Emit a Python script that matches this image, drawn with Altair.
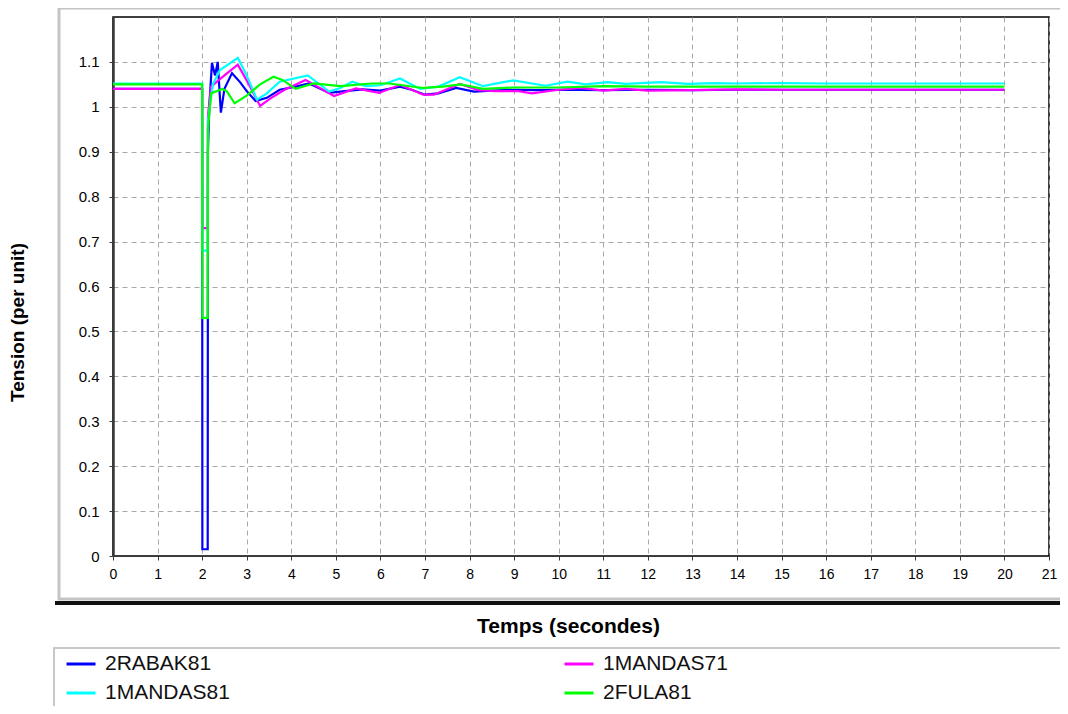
import altair as alt
import pandas as pd

names = ["2RABAK81", "1MANDAS71", "1MANDAS81", "2FULA81"]
colors = ["#0000ff", "#ff00ff", "#00ffff", "#00ff00"]
# legend is filled column by column: this order gives rows (2RABAK81, 1MANDAS71), (1MANDAS81, 2FULA81)
legend_order = ["2RABAK81", "1MANDAS81", "1MANDAS71", "2FULA81"]
legend_colors = ["#0000ff", "#00ffff", "#ff00ff", "#00ff00"]

x_ticks = list(range(0, 22))
y_ticks = [0, 0.1, 0.2, 0.3, 0.4, 0.5, 0.6, 0.7, 0.8, 0.9, 1.0, 1.1]

t_rabak = [0, 2.0, 2.005, 2.125, 2.13, 2.16, 2.22, 2.29, 2.35, 2.42, 2.5, 2.67, 2.85, 3.0, 3.2,
           3.45, 3.74, 4.1, 4.4, 4.85, 5.2, 5.6, 6.0, 6.44, 6.7, 7.0, 7.3, 7.7, 8.1, 8.5, 9.0,
           9.5, 10, 11, 12, 13, 14, 15, 16, 17, 18, 19, 20]
v_rabak = [1.04, 1.04, 0.015, 0.015, 0.9, 1.0, 1.098, 1.07, 1.1, 0.987, 1.04, 1.075, 1.055, 1.035, 1.013,
           1.02, 1.038, 1.045, 1.052, 1.031, 1.035, 1.039, 1.036, 1.045, 1.038, 1.027, 1.03, 1.042, 1.034, 1.036, 1.038,
           1.037, 1.038, 1.037, 1.038, 1.037, 1.038, 1.038, 1.038, 1.038, 1.038, 1.038, 1.038]

t_m71 = [0, 2.0, 2.005, 2.125, 2.13, 2.2, 2.5, 2.8, 3.05, 3.3, 3.55, 3.85, 4.32, 4.96, 5.45, 5.97,
         6.44, 6.96, 7.2, 7.78, 8.2, 8.6, 9.1, 9.4, 10, 10.5, 11, 11.5, 12, 13, 14, 15, 16, 18, 20]
v_m71 = [1.04, 1.04, 0.73, 0.73, 0.98, 1.045, 1.07, 1.094, 1.05, 1.002, 1.02, 1.038, 1.06, 1.024, 1.041, 1.031,
         1.049, 1.027, 1.027, 1.051, 1.037, 1.035, 1.035, 1.03, 1.038, 1.042, 1.036, 1.04, 1.036, 1.037, 1.039, 1.038,
         1.038, 1.038, 1.038]

t_m81 = [0, 2.0, 2.005, 2.125, 2.13, 2.24, 2.4, 2.8, 3.0, 3.23, 3.45, 3.74, 4.37, 4.85, 5.1, 5.37,
         5.67, 6.0, 6.44, 6.89, 7.3, 7.78, 8.3, 8.98, 9.7, 10.2, 10.6, 11.1, 11.5, 12.3, 12.9, 13.5,
         14, 15, 16, 18, 20]
v_m81 = [1.052, 1.052, 0.68, 0.68, 0.97, 1.05, 1.082, 1.109, 1.07, 1.016, 1.03, 1.056, 1.07, 1.034, 1.042, 1.056,
         1.046, 1.048, 1.063, 1.04, 1.045, 1.066, 1.046, 1.059, 1.047, 1.056, 1.05, 1.055, 1.051, 1.055, 1.051, 1.053,
         1.052, 1.053, 1.052, 1.052, 1.052]

t_fula = [0, 2.0, 2.005, 2.125, 2.13, 2.2, 2.45, 2.55, 2.73, 3.0, 3.3, 3.6, 3.8, 4.1, 4.5, 5.1,
          5.8, 6.2, 6.96, 7.4, 7.8, 8.3, 9, 10, 11, 12, 14, 16, 18, 20]
v_fula = [1.05, 1.05, 0.53, 0.53, 0.95, 1.03, 1.04, 1.035, 1.008, 1.025, 1.05, 1.067, 1.06, 1.04, 1.052, 1.046,
          1.052, 1.052, 1.042, 1.045, 1.05, 1.04, 1.043, 1.043, 1.046, 1.045, 1.045, 1.045, 1.045, 1.045]

series = [(names[0], t_rabak, v_rabak), (names[1], t_m71, v_m71),
          (names[2], t_m81, v_m81), (names[3], t_fula, v_fula)]
rows = []
for name, ts, vs in series:
    for i, (t, v) in enumerate(zip(ts, vs)):
        rows.append({"series": name, "t": t, "v": v, "i": i})
df = pd.DataFrame(rows)

one = pd.DataFrame({"a": [0]})

frame = alt.Chart(one).mark_rect(fillOpacity=0, stroke="#c4c4c4", strokeWidth=3, clip=False).encode(
    x=alt.value(-54), x2=alt.value(975), y=alt.value(-9), y2=alt.value(582)
)
shadow = alt.Chart(one).mark_rule(stroke="#111111", strokeWidth=4, clip=False).encode(
    x=alt.value(-58), x2=alt.value(975), y=alt.value(586)
)
legend_box = alt.Chart(one).mark_rect(fillOpacity=0, stroke="#c8c8c8", strokeWidth=2, clip=False).encode(
    x=alt.value(-59), x2=alt.value(975), y=alt.value(631), y2=alt.value(720)
)

lines = alt.Chart(df).mark_line(strokeWidth=2.2, clip=True).encode(
    x=alt.X("t:Q", scale=alt.Scale(domain=[0, 21], nice=False),
            axis=alt.Axis(values=x_ticks, title="Temps (secondes)", labelFontSize=14,
                          labelPadding=7, tickSize=4, titleFontSize=21, titleX=455, titleY=76,
                          titleAlign="center", titleBaseline="alphabetic", labelFlush=False)),
    y=alt.Y("v:Q", scale=alt.Scale(domain=[0, 1.2], nice=False),
            axis=alt.Axis(values=y_ticks, format="~g", title="Tension (per unit)", labelFontSize=15,
                          labelPadding=10, tickSize=4, titleFontSize=19, titleX=-90, titleY=305,
                          titleAlign="center", titleBaseline="alphabetic", domainWidth=2.5)),
    color=alt.Color("series:N", scale=alt.Scale(domain=legend_order, range=legend_colors),
                    legend=alt.Legend(orient="none", legendX=-48, legendY=631, columns=2, title=None,
                                      symbolType="stroke", symbolSize=841, symbolStrokeWidth=3,
                                      labelFont="Liberation Sans", labelFontSize=21, labelColor="#111111",
                                      labelOffset=8, columnPadding=328, rowPadding=3, padding=0,
                                      labelLimit=400)),
    order="i:Q",
)

chart = alt.layer(frame, shadow, legend_box, lines).properties(
    width=936, height=539,
    autosize=alt.AutoSizeParams(type="none"),
    padding={"left": 105, "top": 9, "right": 11, "bottom": 150},
).configure_view(stroke="#000000", strokeWidth=1.5).configure_axis(
    grid=True, gridColor="#a8a8a8", gridDash=[5, 4], gridWidth=1,
    domainColor="#3a3a3a", tickColor="#3a3a3a",
    labelFont="Liberation Sans", labelColor="#000000",
    titleFont="Liberation Sans", titleFontWeight="bold", titleColor="#000000",
)

chart.save("out.html", embed_options={"renderer": "svg", "actions": False})
